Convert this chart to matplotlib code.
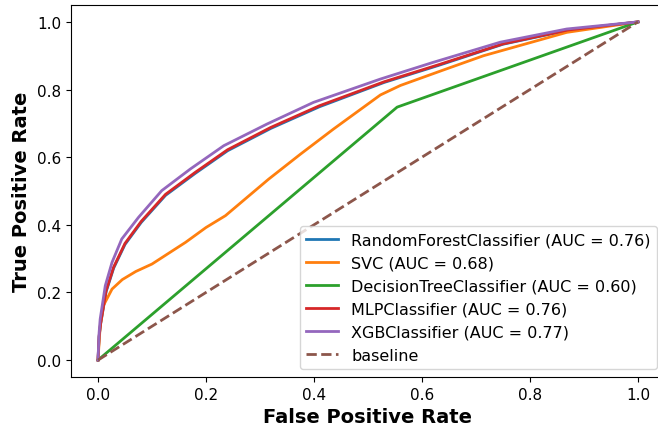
import matplotlib
matplotlib.use('Agg')
import matplotlib.pyplot as plt

# ROC points
rf_fpr = [0, 0.002, 0.005, 0.015, 0.029, 0.05, 0.08, 0.125, 0.18, 0.24, 0.32, 0.41, 0.53, 0.63, 0.75, 0.87, 1.0]
rf_tpr = [0, 0.068, 0.108, 0.202, 0.272, 0.342, 0.407, 0.487, 0.552, 0.619, 0.685, 0.749, 0.821, 0.871, 0.934, 0.975, 1.0]

svc_fpr = [0, 0.004, 0.010, 0.026, 0.045, 0.07, 0.1, 0.13, 0.162, 0.2, 0.236, 0.316, 0.375, 0.436, 0.523, 0.560, 0.64, 0.714, 0.868, 1.0]
svc_tpr = [0, 0.1, 0.161, 0.21, 0.238, 0.262, 0.284, 0.315, 0.348, 0.392, 0.427, 0.535, 0.609, 0.683, 0.784, 0.812, 0.858, 0.9, 0.969, 1.0]

dt_fpr = [0, 0.554, 1.0]
dt_tpr = [0, 0.748, 1.0]

mlp_fpr = [0, 0.002, 0.005, 0.015, 0.029, 0.05, 0.08, 0.125, 0.18, 0.24, 0.32, 0.41, 0.53, 0.63, 0.75, 0.87, 1.0]
mlp_tpr = [0, 0.07, 0.11, 0.205, 0.275, 0.345, 0.41, 0.49, 0.555, 0.622, 0.688, 0.752, 0.823, 0.873, 0.935, 0.976, 1.0]

xgb_fpr = [0, 0.002, 0.004, 0.0135, 0.026, 0.044, 0.075, 0.118, 0.171, 0.233, 0.313, 0.399, 0.523, 0.62, 0.745, 0.868, 1.0]
xgb_tpr = [0, 0.08, 0.121, 0.22, 0.289, 0.358, 0.422, 0.501, 0.565, 0.634, 0.698, 0.762, 0.831, 0.88, 0.940, 0.979, 1.0]

models = [
    ('RandomForestClassifier', 0.76, rf_fpr, rf_tpr),
    ('SVC', 0.68, svc_fpr, svc_tpr),
    ('DecisionTreeClassifier', 0.60, dt_fpr, dt_tpr),
    ('MLPClassifier', 0.76, mlp_fpr, mlp_tpr),
    ('XGBClassifier', 0.77, xgb_fpr, xgb_tpr),
]

fig = plt.figure(figsize=(6.58, 4.31), dpi=100)
ax = fig.add_axes([0.1079, 0.123, 0.9027, 0.8631])

for name, auc, fpr, tpr in models:
    ax.plot(fpr, tpr, linewidth=2, label='%s (AUC = %.2f)' % (name, auc))

ax.plot([0, 1], [0, 1], linestyle='--', linewidth=2, color='tab:brown', label='baseline')

ax.set_xlabel('False Positive Rate', fontsize=14, fontweight='bold')
ax.set_ylabel('True Positive Rate', fontsize=14, fontweight='bold')
ax.set_xticks([0, 0.2, 0.4, 0.6, 0.8, 1.0])
ax.set_yticks([0, 0.2, 0.4, 0.6, 0.8, 1.0])
ax.tick_params(labelsize=11)
ax.legend(loc='lower right', fontsize=11.5)

fig.savefig('out.png', dpi=100)
